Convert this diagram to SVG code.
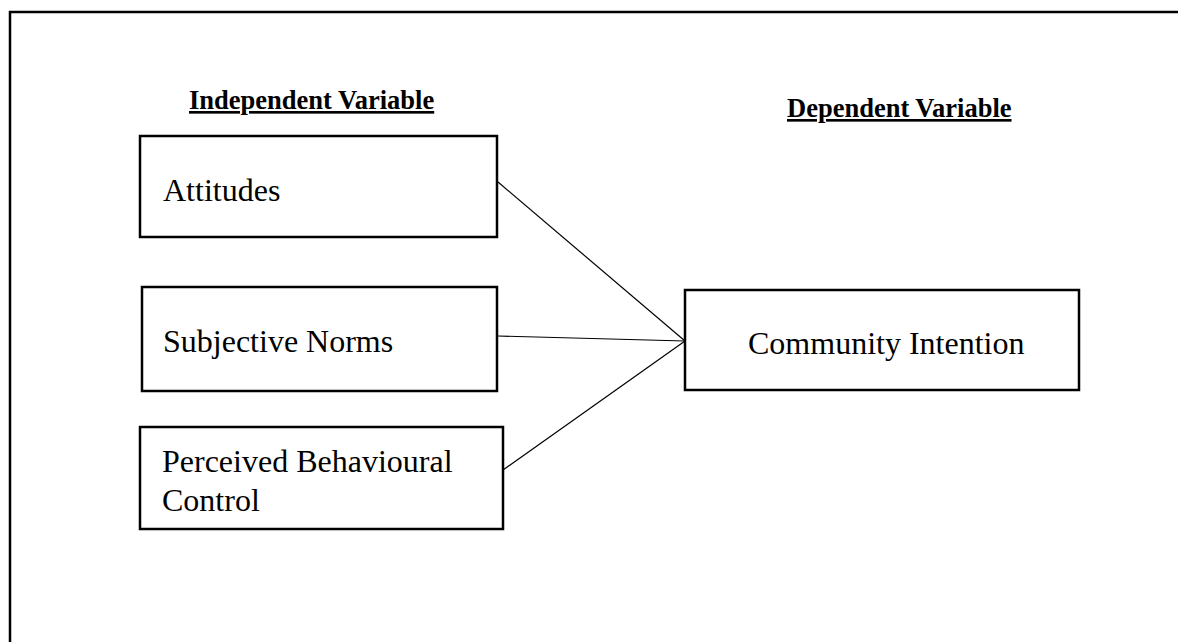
<svg xmlns="http://www.w3.org/2000/svg" width="1178" height="642" viewBox="0 0 1178 642">
  <style>
    .frame { fill: none; stroke: #000; stroke-width: 2.5; }
    .box { fill: #fff; stroke: #000; stroke-width: 2.5; }
    .link { stroke: #000; stroke-width: 1.2; fill: none; }
    .head { font-family: "Liberation Serif", "Times New Roman", serif; font-weight: bold; font-size: 26.5px; text-decoration: underline; fill: #000; }
    .label { font-family: "Liberation Serif", "Times New Roman", serif; font-size: 32px; fill: #000; }
  </style>
  <rect width="1178" height="642" fill="#fff"/>

  <!-- outer border (runs past the right and bottom edges) -->
  <rect class="frame" x="10" y="12" width="1180" height="650"/>

  <!-- column headings -->
  <g id="heading-independent">
    <text class="head" x="189" y="109">Independent Variable</text>
  </g>
  <g id="heading-dependent">
    <text class="head" x="787" y="117">Dependent Variable</text>
  </g>

  <!-- connectors from each predictor to the outcome -->
  <g id="connectors">
    <line class="link" x1="498" y1="182" x2="685" y2="341"/>
    <line class="link" x1="498" y1="336" x2="685" y2="341"/>
    <line class="link" x1="503" y1="470" x2="685" y2="341"/>
  </g>

  <g id="attitudes">
    <rect class="box" x="140" y="136" width="357" height="101"/>
    <text class="label" x="163" y="201">Attitudes</text>
  </g>

  <g id="subjective-norms">
    <rect class="box" x="142" y="287" width="355" height="104"/>
    <text class="label" x="163" y="352">Subjective Norms</text>
  </g>

  <g id="perceived-behavioural-control">
    <rect class="box" x="140" y="427" width="363" height="102"/>
    <text class="label" x="162" y="472">Perceived Behavioural</text>
    <text class="label" x="162" y="511">Control</text>
  </g>

  <g id="community-intention">
    <rect class="box" x="685" y="290" width="394" height="100"/>
    <text class="label" x="748" y="354">Community Intention</text>
  </g>
</svg>
